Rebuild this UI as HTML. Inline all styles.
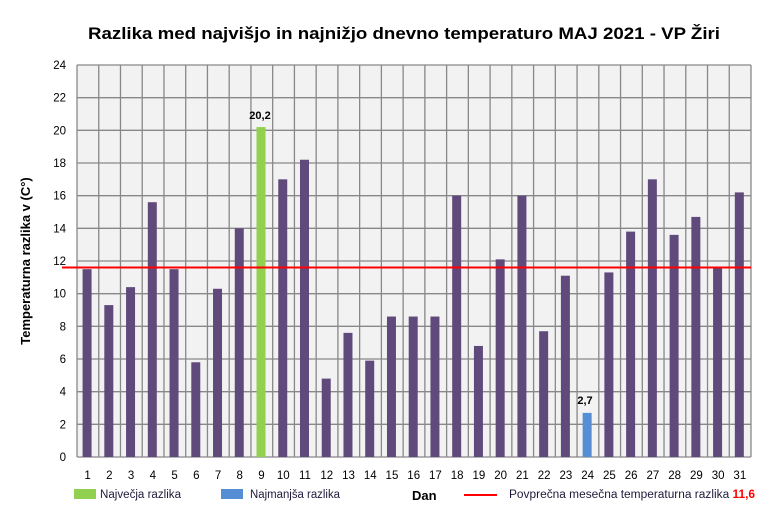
<!DOCTYPE html>
<html><head><meta charset="utf-8"><style>
body{margin:0;background:#fff;}
svg{display:block;font-family:"Liberation Sans",sans-serif;}
</style></head><body>
<svg width="770" height="511" viewBox="0 0 770 511" xmlns="http://www.w3.org/2000/svg">
<text x="88" y="39" textLength="632" lengthAdjust="spacingAndGlyphs" font-size="17" font-weight="bold" fill="#000">Razlika med najvišjo  in najnižjo  dnevno  temperaturo  MAJ 2021 - VP Žiri</text>
<rect x="77" y="65" width="674" height="392" fill="#f2f2f2"/>
<g id="g" stroke="#888" stroke-width="1.3"></g>
<g id="b"></g>
<g id="t" font-size="11.5" fill="#000"></g>
<line x1="62" y1="267.5" x2="751" y2="267.5" stroke="#ff0000" stroke-width="2"/>
<text x="260" y="119" text-anchor="middle" font-size="11" font-weight="bold">20,2</text>
<text x="585" y="404" text-anchor="middle" font-size="11" font-weight="bold">2,7</text>
<text transform="translate(30,261) rotate(-90)" text-anchor="middle" font-size="13" font-weight="bold">Temperaturna razlika v (C°)</text>
<rect x="74" y="489" width="22" height="10" fill="#92d050"/>
<text x="100" y="498" font-size="11.5" fill="#1f1a3a" textLength="81" lengthAdjust="spacingAndGlyphs">Največja razlika</text>
<rect x="221" y="489" width="22" height="10" fill="#558ed5"/>
<text x="250" y="498" font-size="11.5" fill="#1f1a3a" textLength="90" lengthAdjust="spacingAndGlyphs">Najmanjša razlika</text>
<text x="412" y="500" font-size="13" font-weight="bold">Dan</text>
<line x1="464" y1="495" x2="497" y2="495" stroke="#ff0000" stroke-width="2"/>
<text x="509" y="498" font-size="11.5" fill="#1f1a3a" textLength="246" lengthAdjust="spacingAndGlyphs">Povprečna mesečna temperaturna razlika <tspan fill="#ff0000" font-weight="bold">11,6</tspan></text>
</svg>
<script>
var v=[11.5,9.3,10.4,15.6,11.5,5.8,10.3,14,20.2,17,18.2,4.8,7.6,5.9,8.6,8.6,8.6,16,6.8,12.1,16,7.7,11.1,2.7,11.3,13.8,17,13.6,14.7,11.6,16.2];
var ns="http://www.w3.org/2000/svg";
function el(p,n,a,t){var e=document.createElementNS(ns,n);for(var k in a)e.setAttribute(k,a[k]);if(t!=null)e.textContent=t;document.getElementById(p).appendChild(e);}
var x0=77,w=674/31,y0=457,u=392/24;
for(var i=0;i<=12;i++){var y=y0-i*2*u;el('g','line',{x1:x0,y1:y,x2:751,y2:y});el('t','text',{x:66,y:y+4,'text-anchor':'end'},String(i*2));}
for(var i=0;i<=31;i++){var x=x0+i*w;el('g','line',{x1:x,y1:65,x2:x,y2:457});}
for(var i=0;i<31;i++){var c=x0+(i+0.5)*w-0.8;var col=i==8?'#92d050':(i==23?'#558ed5':'#604a7b');var h=v[i]*u;
el('b','rect',{x:c-4.5,y:y0-h,width:9,height:h,fill:col});
el('t','text',{x:c+0.5,y:479,'text-anchor':'middle'},String(i+1));}
</script>
</body></html>
